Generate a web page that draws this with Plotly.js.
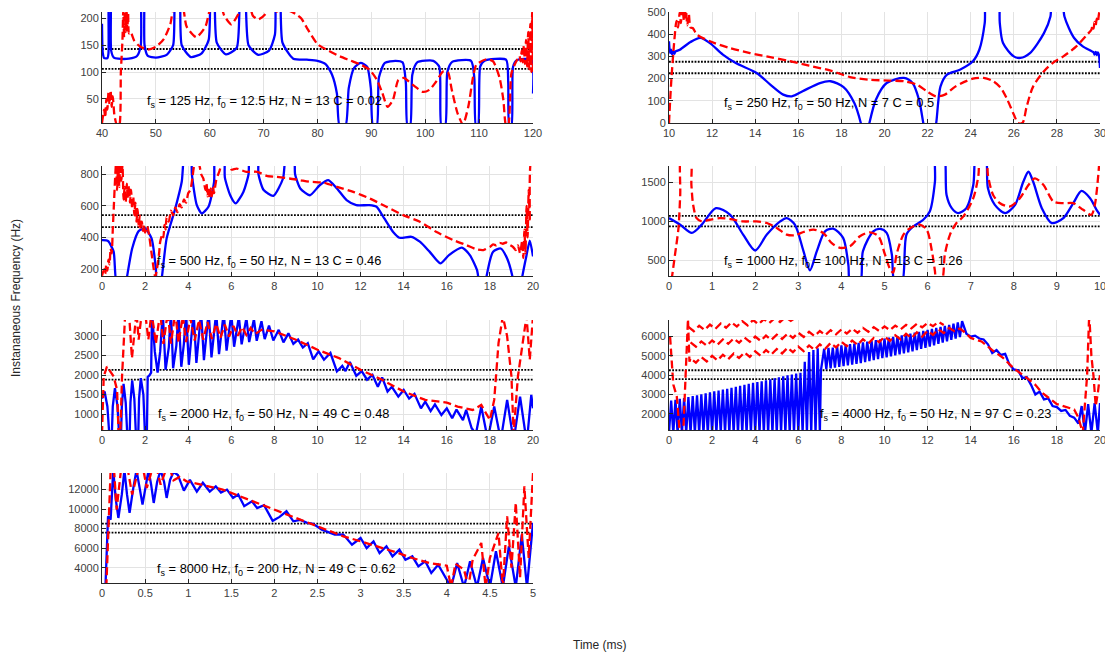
<!DOCTYPE html>
<html>
<head>
<meta charset="utf-8">
<script src="https://cdn.plot.ly/plotly-3.0.1.min.js"></script>
<style>html,body{margin:0;padding:0;background:#fff}#chart{width:1105px;height:655px}</style>
</head>
<body>
<div id="chart"></div>
<script>
// ---------- data ----------
const labels = [
  "f<sub>s</sub> = 125 Hz, f<sub>0</sub> = 12.5 Hz, N = 13 C = 0.02",
  "f<sub>s</sub> = 250 Hz, f<sub>0</sub> = 50 Hz, N = 7 C = 0.5",
  "f<sub>s</sub> = 500 Hz, f<sub>0</sub> = 50 Hz, N = 13 C = 0.46",
  "f<sub>s</sub> = 1000 Hz, f<sub>0</sub> = 100 Hz, N = 13 C = 1.26",
  "f<sub>s</sub> = 2000 Hz, f<sub>0</sub> = 50 Hz, N = 49 C = 0.48",
  "f<sub>s</sub> = 4000 Hz, f<sub>0</sub> = 50 Hz, N = 97 C = 0.23",
  "f<sub>s</sub> = 8000 Hz, f<sub>0</sub> = 200 Hz, N = 49 C = 0.62"
];
const xRanges = [[40,120],[10,30],[0,20],[0,10],[0,20],[0,20],[0,5]];
const yRanges = [[5,212],[0,500],[156,852],[300,1710],[600,3400],[1160,6860],[2430,13700]];
const xTickStep = [10,2,2,1,2,2,0.5];
const yTickStep = [50,100,200,500,500,1000,2000];
const bounds = [[143,106],[276,224],[541,465],[1070,937],[2128,1881],[4255,3792],[8510,7590]];

const p1Blue = [[40,190],[40.15,135],[40.4,126],[41,126],[41.2,135],[41.35,260],[41.55,260],[41.7,140],[42.2,127],[43,125],[45,125],[46.5,130],[47.2,150],[47.4,260],[47.7,260],[47.9,150],[48.5,130],[50,127],[52,132],[53.2,150],[53.7,260],[54.3,260],[54.8,150],[56.5,128],[58.5,135],[59.8,160],[60.3,260],[60.7,260],[61.3,155],[63,133],[65,145],[65.8,260],[66.4,260],[67.2,150],[69,132],[71,140],[72.1,170],[72.4,260],[72.9,260],[73.5,155],[75.5,125],[78,123],[80,121],[81.5,115],[82.7,95],[83.6,60],[84.1,0],[85.2,0],[85.8,70],[86.8,108],[88,117],[89.2,110],[89.9,70],[90.3,0],[91,0],[91.4,90],[92.5,117],[94.5,121],[95.8,118],[96.4,80],[96.7,0],[97.2,0],[97.6,95],[98.5,118],[101.5,121],[102.6,110],[103,0],[103.7,0],[104.1,100],[105,119],[108.5,121],[109.1,90],[109.4,0],[109.8,0],[110.2,110],[111,121],[115,123],[115.4,80],[115.6,0],[116,0],[116.3,110],[117,122],[119.7,123],[120,60]];
const p1Red = [[40,5],[40.4,30],[40.6,15],[40.8,50],[41,30],[41.2,62],[41.4,40],[41.6,66],[41.8,35],[42,55],[42.3,20],[42.8,0],[43.2,0],[43.5,100],[43.8,160],[43.95,215],[44.1,165],[44.25,225],[44.4,175],[44.55,220],[44.7,178],[44.85,210],[45,172],[45.3,175],[46,158],[47,148],[48.5,142],[50,147],[51.5,162],[52.7,190],[53.5,230],[54.8,230],[55.7,185],[57.5,165],[59.2,185],[60.5,230],[62,225],[62.7,205],[64,189],[65.4,210],[66.2,230],[67.2,230],[68,205],[69,198],[70.3,208],[71,220],[72,212],[73,215],[74.5,215],[76,208],[77,200],[78,183],[80,152],[82,140],[84,130],[86,122],[88,114],[89.7,104],[91,86],[92,62],[93,35],[94,48],[95,85],[96,89],[97.7,76],[99.6,63],[100.8,67],[102,82],[103.3,101],[104.2,100],[104.9,68],[106,23],[107,2],[108,36],[108.9,92],[109.5,114],[111.4,124],[112.6,120],[113.8,89],[114.5,48],[115,0],[115.4,0],[116,98],[116.9,120],[117.5,130],[117.7,120],[117.9,140],[118.1,118],[118.3,150],[118.5,115],[118.7,160],[118.9,110],[119.1,175],[119.3,105],[119.5,190],[119.7,100],[119.85,215],[120,95]];

const p2Blue = [[10,368],[10.05,315],[10.1,330],[10.15,308],[10.2,325],[10.25,312],[10.3,322],[10.5,330],[11,365],[11.45,383],[11.9,360],[12.5,308],[13.1,270],[14.07,225],[14.7,173],[15.3,128],[15.7,120],[16.2,143],[17,180],[17.5,188],[18.1,162],[18.6,90],[18.9,0],[19,-50],[19.2,-50],[19.3,0],[19.6,105],[20.1,180],[20.9,203],[21.3,180],[21.6,105],[21.8,0],[21.9,-50],[22.3,-50],[22.4,0],[22.6,165],[22.9,218],[23.5,240],[24.1,278],[24.4,330],[24.65,450],[24.75,600],[25.25,600],[25.35,450],[25.5,360],[26,300],[26.3,293],[26.75,315],[27.4,405],[27.7,480],[27.8,600],[28.2,600],[28.35,480],[28.8,383],[29.2,345],[29.7,318],[29.75,308],[29.8,320],[29.85,306],[29.9,318],[29.95,305],[30,248]];
const p2Red = [[10,0],[10.1,180],[10.25,375],[10.35,460],[10.42,430],[10.5,500],[10.55,450],[10.62,520],[10.7,460],[10.78,510],[10.85,440],[10.92,490],[11,430],[11.1,428],[11.3,398],[11.9,368],[12.8,338],[13.76,315],[14.7,297],[15.5,281],[16.5,258],[17.5,236],[18.4,207],[19.3,195],[20.25,191],[20.9,188],[21.5,173],[21.96,143],[22.4,120],[22.8,128],[23.3,165],[24.1,200],[24.6,203],[25.05,188],[25.4,158],[25.7,105],[26,38],[26.2,0],[26.4,0],[26.6,75],[26.9,165],[27.4,233],[27.8,270],[28.3,300],[28.9,345],[29.4,398],[29.6,420],[29.65,440],[29.7,425],[29.75,455],[29.8,440],[29.85,470],[29.9,455],[29.95,490],[30,510]];

const p3Blue = [[0,383],[0.2,382],[0.3,375],[0.54,310],[0.7,100],[1.1,100],[1.16,150],[1.4,330],[1.7,440],[2,457],[2.3,394],[2.5,200],[2.55,100],[2.72,100],[2.78,150],[3,394],[3.4,583],[3.7,752],[3.86,950],[4.12,950],[4.17,800],[4.4,604],[4.63,552],[4.94,594],[5.2,750],[5.27,950],[5.65,950],[5.7,780],[5.95,667],[6.2,615],[6.56,688],[6.8,800],[6.87,950],[7.22,950],[7.26,800],[7.5,700],[7.95,663],[8.4,773],[8.57,950],[8.9,950],[8.96,800],[9.2,710],[9.65,667],[10.1,730],[10.5,762],[10.9,710],[11.35,636],[11.8,604],[12.4,604],[12.74,594],[13.1,520],[13.5,436],[13.8,398],[14.36,404],[14.75,373],[15.2,310],[15.7,236],[16.1,288],[16.7,335],[17.07,288],[17.4,194],[17.55,100],[17.8,100],[17.84,150],[18.15,310],[18.5,330],[18.8,267],[19.05,150],[19.1,100],[19.45,100],[19.5,150],[19.7,288],[19.85,380],[20,280]];
const p3Red = [[0,158],[0.1,200],[0.15,170],[0.2,230],[0.25,190],[0.3,260],[0.35,230],[0.4,330],[0.45,300],[0.5,450],[0.55,600],[0.6,750],[0.65,870],[0.7,700],[0.75,880],[0.8,720],[0.85,880],[0.9,760],[0.95,860],[1,640],[1.05,720],[1.1,620],[1.15,740],[1.2,650],[1.25,730],[1.3,620],[1.35,700],[1.4,580],[1.45,660],[1.5,540],[1.55,620],[1.6,500],[1.65,580],[1.7,470],[1.75,540],[1.8,450],[1.85,500],[1.9,440],[1.95,480],[2,430],[2.1,470],[2.2,400],[2.3,300],[2.4,200],[2.47,150],[2.55,200],[2.65,300],[2.7,373],[2.8,420],[2.85,400],[2.9,480],[2.95,450],[3,530],[3.1,500],[3.2,570],[3.3,540],[3.4,590],[3.5,560],[3.6,610],[3.7,590],[3.8,640],[3.9,620],[4,680],[4.1,700],[4.2,780],[4.3,860],[4.5,860],[4.6,800],[4.7,773],[4.8,700],[4.85,740],[4.9,660],[4.95,720],[5,650],[5.05,710],[5.1,660],[5.15,720],[5.2,680],[5.3,762],[5.45,820],[5.56,860],[5.9,860],[6,830],[6.25,836],[6.7,815],[7.2,815],[7.64,790],[8.1,783],[8.7,773],[9.2,762],[9.65,752],[10.27,747],[10.9,720],[11.66,688],[12.43,646],[13.2,594],[13.98,541],[14.75,499],[15.5,436],[16.3,383],[16.9,352],[17.4,324],[17.7,320],[18,340],[18.15,356],[18.3,350],[18.45,366],[18.6,360],[18.75,368],[18.9,355],[19.07,341],[19.2,320],[19.3,350],[19.4,300],[19.5,380],[19.55,270],[19.6,450],[19.65,300],[19.7,600],[19.75,400],[19.8,700],[19.85,500],[19.9,870],[20,870]];

const p4Blue = [[0,1042],[0.26,958],[0.53,852],[0.76,958],[1.09,1170],[1.42,1085],[1.72,831],[2,627],[2.27,831],[2.58,1000],[2.73,1042],[2.92,958],[3.12,619],[3.27,373],[3.43,619],[3.62,873],[3.81,907],[4.04,788],[4.16,449],[4.21,200],[4.43,200],[4.5,619],[4.74,873],[4.9,903],[5.05,852],[5.17,576],[5.24,200],[5.4,200],[5.51,831],[5.67,936],[5.9,1021],[6.05,1127],[6.17,1508],[6.2,1900],[6.37,1900],[6.44,1339],[6.56,1170],[6.71,1106],[6.9,1170],[7.06,1466],[7.14,1900],[7.33,1900],[7.4,1424],[7.56,1212],[7.8,1106],[8.03,1212],[8.22,1508],[8.34,1636],[8.45,1508],[8.65,1170],[8.88,979],[9.15,1042],[9.38,1233],[9.57,1390],[9.77,1297],[9.92,1148],[10,1085]];
const p4Red = [[0.06,250],[0.14,576],[0.22,915],[0.26,1339],[0.3,1900],[0.49,1900],[0.52,1466],[0.56,1212],[0.64,1042],[0.76,1000],[0.95,1021],[1.18,1042],[1.42,1030],[1.72,1000],[2.03,1000],[2.27,979],[2.5,915],[2.73,831],[2.92,822],[3.12,864],[3.35,894],[3.58,852],[3.77,725],[3.97,661],[4.2,682],[4.43,809],[4.66,860],[4.86,809],[5.01,576],[5.13,386],[5.2,343],[5.28,576],[5.44,831],[5.6,915],[5.82,958],[5.98,894],[6.1,619],[6.17,364],[6.2,250],[6.33,250],[6.4,576],[6.52,831],[6.67,979],[6.83,1064],[7.06,1297],[7.18,1593],[7.22,1900],[7.35,1900],[7.4,1593],[7.52,1339],[7.68,1233],[7.91,1191],[8.14,1297],[8.34,1466],[8.49,1551],[8.69,1466],[8.92,1254],[9.15,1233],[9.38,1233],[9.61,1148],[9.8,1085],[9.88,1212],[9.96,1593],[10,1900]];

const p5Blue = [[0,1400],[0.12,1580],[0.25,1200],[0.35,400],[0.45,400],[0.5,1200],[0.6,1664],[0.72,1200],[0.8,400],[0.88,400],[0.92,1200],[1,1775],[1.1,1300],[1.18,400],[1.28,400],[1.32,1300],[1.4,1860],[1.5,1400],[1.58,400],[1.68,400],[1.72,1400],[1.8,1919],[1.92,1500],[2,400],[2.08,400],[2.12,1950],[2.2,1990],[2.28,2060],[2.32,3600],[2.45,2600],[2.58,2064],[2.7,2600],[2.82,3600],[2.95,2132],[3.1,2700],[3.2,3600],[3.3,2170],[3.45,2750],[3.55,3600],[3.68,2210],[3.8,2800],[3.9,3600],[4.03,2260],[4.15,2850],[4.25,3600],[4.38,2310],[4.5,2900],[4.6,3600],[4.73,2380],[4.85,2950],[4.95,3600],[5.08,2450],[5.2,3000],[5.3,3600],[5.43,2530],[5.55,3050],[5.65,3600],[5.78,2620],[5.9,3100],[6,3550],[6.13,2720],[6.25,3100],[6.35,3480],[6.48,2780],[6.6,3150],[6.7,3450],[6.83,2840],[6.95,3150],[7.05,3420],[7.18,2870],[7.3,3150],[7.4,3370],[7.55,2915],[7.75,3260],[7.95,2880],[8.2,3150],[8.42,2830],[8.65,3060],[8.88,2790],[9.1,2900],[9.32,2700],[9.55,2810],[9.8,2400],[10.05,2600],[10.3,2390],[10.6,2560],[10.9,2090],[11.15,2230],[11.3,2100],[11.5,2330],[11.8,1980],[12.05,2100],[12.3,1880],[12.55,2000],[12.8,1700],[13,1940],[13.25,1580],[13.45,1700],[13.75,1450],[14,1620],[14.25,1400],[14.5,1520],[14.8,1150],[15,1320],[15.25,1080],[15.45,1250],[15.75,980],[16,1150],[16.25,900],[16.45,1120],[16.75,850],[16.9,1110],[17.15,650],[17.35,500],[17.6,1196],[17.85,500],[17.95,500],[18.2,1196],[18.45,500],[18.55,500],[18.8,1366],[19.05,500],[19.15,500],[19.4,1451],[19.65,500],[19.75,500],[19.92,1494],[20,1153]];
const p5Red = [[0,500],[0.08,1962],[0.23,2217],[0.54,1962],[0.7,1621],[0.77,500],[0.85,500],[0.93,1962],[1.08,3600],[1.25,3600],[1.39,2430],[1.5,3000],[1.6,3600],[1.7,2898],[1.85,3600],[2,3600],[2.15,2900],[2.3,3600],[2.5,2800],[2.7,3600],[2.85,2790],[3.05,3600],[3.2,2800],[3.4,3600],[3.55,2820],[3.75,3500],[3.9,2840],[4.1,3450],[4.3,2880],[4.5,3400],[4.7,2900],[4.9,3350],[5.1,2920],[5.3,3300],[5.5,2950],[5.7,3280],[5.9,2980],[6.1,3250],[6.3,3000],[6.5,3220],[6.7,3020],[6.9,3200],[7.1,3040],[7.4,3150],[8,3110],[9,2898],[10,2643],[11,2430],[12,2132],[13,1877],[14,1579],[15,1366],[15.5,1330],[16,1298],[16.5,1196],[17.2,1111],[17.6,1238],[18,855],[18.2,1366],[18.4,2813],[18.6,3500],[18.8,2983],[19,1962],[19.1,500],[19.3,1962],[19.5,2728],[19.7,3500],[19.85,2387],[20,3500]];

const p6Blue = [[0,1000],[0.1,2680],[0.2,1000],[0.3,2720],[0.4,1000],[0.5,2780],[0.6,1000],[0.7,2820],[0.8,1000],[0.9,2870],[1,1000],[1.1,2920],[1.2,1000],[1.3,2960],[1.4,1000],[1.5,3010],[1.6,1000],[1.7,3060],[1.8,1000],[1.9,3110],[2,1000],[2.1,3160],[2.2,1000],[2.3,3210],[2.4,1000],[2.5,3260],[2.6,1000],[2.7,3300],[2.8,1000],[2.9,3350],[3,1000],[3.1,3400],[3.2,1000],[3.3,3450],[3.4,1000],[3.5,3500],[3.6,1000],[3.7,3550],[3.8,1000],[3.9,3600],[4,1000],[4.1,3650],[4.2,1000],[4.3,3690],[4.4,1000],[4.5,3740],[4.6,1000],[4.7,3790],[4.8,1000],[4.9,3840],[5,1000],[5.1,3890],[5.2,1000],[5.3,3940],[5.4,1000],[5.5,3990],[5.6,1000],[5.7,4030],[5.8,1000],[5.9,4080],[6,1000],[6.1,4130],[6.2,1000],[6.3,4700],[6.4,1000],[6.5,5200],[6.6,1000],[6.7,5300],[6.8,1000],[6.9,5400],[7,1000],[7.05,4250],[7.2,5370],[7.3,4310],[7.4,5410],[7.5,4350],[7.6,5430],[7.7,4390],[7.8,5510],[7.9,4430],[8,5550],[8.1,4470],[8.2,5580],[8.3,4510],[8.4,5610],[8.5,4550],[8.6,5640],[8.7,4590],[8.8,5670],[8.9,4630],[9,5700],[9.1,4680],[9.2,5740],[9.3,4730],[9.4,5780],[9.5,4780],[9.6,5820],[9.7,4830],[9.8,5860],[9.9,4880],[10,5900],[10.1,4930],[10.2,5940],[10.3,4980],[10.4,5980],[10.5,5030],[10.6,6020],[10.7,5080],[10.8,6060],[10.9,5130],[11,6100],[11.1,5180],[11.2,6150],[11.3,5240],[11.4,6200],[11.5,5300],[11.6,6250],[11.7,5360],[11.8,6300],[11.9,5420],[12,6350],[12.1,5480],[12.2,6400],[12.3,5550],[12.4,6450],[12.5,5620],[12.6,6500],[12.7,5690],[12.8,6550],[12.9,5760],[13,6600],[13.1,5830],[13.2,6670],[13.3,5900],[13.4,6740],[13.5,5970],[13.6,6800],[13.8,6150],[14,6000],[14.2,6050],[14.4,5900],[14.6,5850],[14.8,5600],[15,5150],[15.2,5300],[15.4,5050],[15.6,5100],[15.8,4550],[16,4300],[16.2,4250],[16.4,3850],[16.6,3900],[16.8,3500],[17,3000],[17.2,3150],[17.4,2750],[17.6,2800],[17.8,2400],[18,2350],[18.2,2150],[18.4,2200],[18.6,1900],[18.8,1800],[19,1500],[19.15,2400],[19.3,1000],[19.45,2500],[19.6,1000],[19.75,2550],[19.9,1000],[20,2560]];
const p6Red = [[0.05,6000],[0.12,4626],[0.2,3510],[0.36,2910],[0.5,1000],[0.66,1000],[0.75,3425],[0.82,4800],[0.88,6900],[0.95,4700],[1,4880],[1.25,4650],[1.5,4940],[1.75,4710],[2,5000],[2.25,4770],[2.5,5060],[2.75,4830],[3,5120],[3.25,4890],[3.5,5180],[3.75,4950],[4,5240],[4.25,5010],[4.5,5300],[4.75,5070],[5,5360],[5.25,5130],[5.5,5420],[5.75,5190],[6,5480],[6.25,5250],[6.5,5540],[6.75,5310],[7,5600],[7.25,5370],[7.5,5670],[7.75,5440],[8,5730],[8.25,5500],[8.5,5800],[8.75,5570],[9,5860],[9.25,5640],[9.5,5930],[9.75,5710],[10,6000],[10.25,5780],[10.5,6070],[10.75,5850],[11,6140],[11.25,5920],[11.5,6220],[11.75,6000],[12,6300],[12.25,6090],[12.5,6380],[12.75,6180],[13,6450],[13.25,6280],[13.5,6420],[13.75,6200],[14,5930],[14.5,5750],[15,5300],[15.5,4900],[16,4350],[16.5,3950],[17,3500],[17.3,3100],[17.7,2740],[18,2500],[18.3,2400],[18.8,2225],[19,1800],[19.2,1000],[19.3,2500],[19.4,3940],[19.5,7200],[19.6,5000],[19.7,3940],[19.8,2400],[19.9,3082],[20,4000],
  [null,null],
  [1,5700],[1.25,5480],[1.5,5750],[1.75,5530],[2,5800],[2.25,5580],[2.5,5850],[2.75,5630],[3,5900],[3.25,5680],[3.5,5950],[3.75,5730],[4,6000],[4.25,5780],[4.5,6050],[4.75,5830],[5,6100],[5.25,5880],[5.5,6150],[5.75,5930],[6,6200],[6.25,5980],[6.5,6250],[6.75,6030],[7,6290],[7.25,6080],[7.5,6330],[7.75,6120],[8,6370],[8.25,6160],[8.5,6410],[8.75,6200],[9,6450],[9.25,6250],[9.5,6490],[9.75,6290],[10,6530],[10.25,6330],[10.5,6570],[10.75,6380],[11,6610],[11.25,6430],[11.5,6660],[11.75,6480],[12,6710],[12.25,6540],[12.5,6760],[12.75,6600],
  [null,null],
  [0.9,6500],[1.15,6280],[1.4,6560],[1.65,6340],[1.9,6620],[2.15,6400],[2.4,6680],[2.65,6460],[2.9,6740],[3.15,6520],[3.4,6800],[3.65,6580],[3.9,6860],[4.15,6640],[4.4,6900],[4.65,6700],[4.9,6950],[5.15,6760],[5.4,7000],[5.65,6820],[5.9,7000]];

const p7Blue = [[0.04,2000],[0.07,9265],[0.1,8923],[0.13,14000],[0.16,11000],[0.19,9094],[0.23,11500],[0.26,14000],[0.29,11500],[0.32,9607],[0.36,12000],[0.4,14000],[0.44,12000],[0.47,10461],[0.51,12500],[0.54,14000],[0.57,12500],[0.6,10632],[0.64,12800],[0.68,14000],[0.72,12800],[0.75,11145],[0.79,13000],[0.83,13800],[0.88,13500],[0.95,11900],[1.02,13000],[1.1,11800],[1.17,12700],[1.25,11800],[1.32,12340],[1.38,11700],[1.45,12000],[1.52,11150],[1.58,11500],[1.65,10300],[1.74,10800],[1.8,10100],[1.88,10400],[1.98,8800],[2.06,9200],[2.14,9780],[2.22,8750],[2.3,8900],[2.38,8600],[2.45,8500],[2.55,7900],[2.6,7750],[2.7,7400],[2.8,7390],[2.9,6360],[3,7040],[3.07,6000],[3.15,6700],[3.22,5500],[3.3,6190],[3.37,5160],[3.45,5850],[3.52,4820],[3.6,5160],[3.67,4140],[3.75,4650],[3.82,3450],[3.9,4310],[3.97,3280],[4.05,2000],[4.12,4480],[4.2,2000],[4.27,4650],[4.35,2000],[4.42,4990],[4.5,2000],[4.57,5680],[4.65,2000],[4.72,6190],[4.8,2000],[4.87,7390],[4.93,2000],[5,8580]];
const p7Red = [[0.05,2000],[0.08,8581],[0.1,14000],[0.14,14000],[0.17,9950],[0.22,14000],[0.3,14000],[0.35,11490],[0.42,14000],[0.48,14000],[0.52,12170],[0.58,14000],[0.64,14000],[0.68,12510],[0.74,14000],[0.8,13800],[0.83,12957],[0.9,13300],[0.98,12850],[1.2,12410],[1.4,12000],[1.6,11316],[1.8,10632],[2,9950],[2.2,9265],[2.4,8580],[2.6,7897],[2.8,7213],[3,6700],[3.2,6188],[3.4,5606],[3.6,4991],[3.8,4478],[4,4205],[4.05,2000],[4.1,4400],[4.2,3794],[4.25,2000],[4.3,4820],[4.4,6530],[4.45,2000],[4.5,5000],[4.6,7555],[4.65,2000],[4.7,9265],[4.75,4000],[4.8,10632],[4.85,3000],[4.9,12340],[4.95,5000],[5,13700]];

const blueSeries = [p1Blue,p2Blue,p3Blue,p4Blue,p5Blue,p6Blue,p7Blue];
const redSeries = [p1Red,p2Red,p3Red,p4Red,p5Red,p6Red,p7Red];

// ---------- layout geometry / styles ----------
const W = 1105, H = 655;
const colX = [[102,533],[669,1100]];
const rowY = [[12,123],[166,276],[320,430],[473,583]];
const labelPos = [[145,102],[722,104],[155,261],[722,261],[156,415],[818,415],[155,569]];
const smooth = [0.6,0.8,0.6,0.8,0,0,0];
const FONT = 'Liberation Sans, Arial, Helvetica, sans-serif';

const traces = [];
const layout = {
  width: W, height: H,
  margin: {l:0, r:0, t:0, b:0},
  paper_bgcolor: '#fff', plot_bgcolor: '#fff',
  showlegend: false,
  font: {family: FONT, size: 11, color: '#404040'},
  annotations: []
};

for (let i = 0; i < 7; i++) {
  const col = i % 2, row = Math.floor(i / 2);
  const n = i === 0 ? '' : String(i + 1);
  const xa = 'x' + n, ya = 'y' + n;
  const xd = [colX[col][0] / W, colX[col][1] / W];
  const yd = [1 - rowY[row][1] / H, 1 - rowY[row][0] / H];
  const axCommon = {
    showline: true, linecolor: '#262626', linewidth: 1,
    showgrid: true, gridcolor: '#e3e3e3', gridwidth: 1,
    zeroline: false, ticks: 'inside', ticklen: 4, tickcolor: '#262626',
    tickfont: {size: 11, color: '#404040'}, fixedrange: true,
    ticklabeloverflow: 'allow', tickformat: 'd'
  };
  layout['xaxis' + n] = Object.assign({}, axCommon, {
    domain: xd, range: xRanges[i], dtick: xTickStep[i], tick0: 0, anchor: ya,
    tickformat: xTickStep[i] < 1 ? '' : 'd'
  });
  layout['yaxis' + n] = Object.assign({}, axCommon, {
    domain: yd, range: yRanges[i], dtick: yTickStep[i], tick0: 0, anchor: xa
  });
  bounds[i].forEach(v => traces.push({
    type: 'scatter', mode: 'lines', xaxis: xa, yaxis: ya,
    x: xRanges[i], y: [v, v], hoverinfo: 'skip',
    line: {color: '#000', width: 1.8, dash: '1.8px,1.4px'}
  }));
  const b = blueSeries[i], r = redSeries[i];
  const shp = smooth[i] > 0 ? 'spline' : 'linear';
  traces.push({
    type: 'scatter', mode: 'lines', xaxis: xa, yaxis: ya,
    x: b.map(p => p[0]), y: b.map(p => p[1]),
    line: {color: '#0000ff', width: 2.3, shape: shp, smoothing: smooth[i] || 1}, connectgaps: false
  });
  traces.push({
    type: 'scatter', mode: 'lines', xaxis: xa, yaxis: ya,
    x: r.map(p => p[0]), y: r.map(p => p[1]),
    line: {color: '#ff0000', width: 2.3, dash: '8px,4px', shape: shp, smoothing: smooth[i] || 1}, connectgaps: false
  });
  layout.annotations.push({
    xref: 'paper', yref: 'paper', x: labelPos[i][0] / W, y: 1 - labelPos[i][1] / H,
    xanchor: 'left', yanchor: 'middle', showarrow: false, text: labels[i],
    font: {family: FONT, size: 12.8, color: '#000'}
  });
}
layout.annotations.push({
  xref: 'paper', yref: 'paper', x: 16 / W, y: 1 - 298 / H, textangle: -90,
  xanchor: 'center', yanchor: 'middle', showarrow: false,
  text: 'Instananeous Frequency (Hz)',
  font: {family: FONT, size: 12, color: '#262626'}
});
layout.annotations.push({
  xref: 'paper', yref: 'paper', x: 600 / W, y: 1 - 645 / H,
  xanchor: 'center', yanchor: 'middle', showarrow: false,
  text: 'Time (ms)',
  font: {family: FONT, size: 12, color: '#262626'}
});

Plotly.newPlot('chart', traces, layout, {displayModeBar: false, staticPlot: true});
</script>
</body>
</html>
